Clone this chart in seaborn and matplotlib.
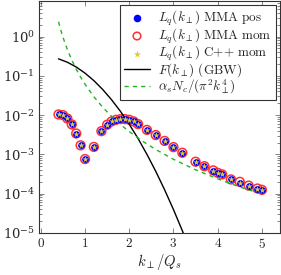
import numpy as np
import pandas as pd
import matplotlib
matplotlib.use("Agg")
import matplotlib.pyplot as plt
import seaborn as sns
from matplotlib.ticker import LogLocator, NullFormatter, FixedLocator

sns.set_style("ticks")
plt.rcParams["font.family"] = ["DejaVu Serif"]
plt.rcParams["mathtext.fontset"] = "cm"

# L_q(k_perp) samples
k_pts = [0.4, 0.5, 0.6, 0.7, 0.8, 0.9, 1.0, 1.2, 1.37, 1.5, 1.6, 1.7, 1.8, 1.9,
         2.0, 2.1, 2.2, 2.4, 2.6, 2.8, 3.0, 3.2, 3.5, 3.7, 3.9, 4.0, 4.1, 4.3,
         4.5, 4.7, 4.9, 5.0]
lq_pos = [0.0104, 0.0100, 0.0082, 0.0058, 0.0034, 0.0017, 0.00076, 0.00155,
          0.0039, 0.0057, 0.0069, 0.0076, 0.0079, 0.0079, 0.0076, 0.0069,
          0.0059, 0.0042, 0.0031, 0.0022, 0.00153, 0.0011, 0.00065, 0.00050,
          0.00037, 0.00034, 0.00031, 0.00023, 0.00019, 0.00016, 0.00013,
          0.000125]
lq_mom = [0.0104, 0.0100, 0.0082, 0.0058, 0.0034, 0.0017, 0.00076, 0.00155,
          0.0039, 0.0057, 0.0069, 0.0076, 0.0079, 0.0079, 0.0076, 0.0069,
          0.0059, 0.0042, 0.0031, 0.0022, 0.00153, 0.0011, 0.00065, 0.00050,
          0.00039, 0.00034, 0.00031, 0.00023, 0.00020, 0.00016, 0.000135,
          0.000125]
lq_cpp = lq_pos

# F(k_perp) GBW curve
k_gbw = [0.4, 0.6, 0.8, 1.0, 1.2, 1.4, 1.6, 1.8, 2.0, 2.2, 2.4, 2.6, 2.8,
         3.0, 3.2, 3.4]
f_gbw = [0.271, 0.222, 0.168, 0.117, 0.0754, 0.0448, 0.0246, 0.0125,
         0.00583, 0.00252, 0.00100, 0.000369, 0.000125, 3.93e-5, 1.14e-5,
         3.04e-6]

# alpha_s N_c / (pi^2 k^4) curve
k_pert = [0.4, 0.45, 0.5, 0.55, 0.6, 0.7, 0.8, 0.9, 1.0, 1.2, 1.4, 1.6, 1.8,
          2.0, 2.3, 2.6, 3.0, 3.5, 4.0, 4.5, 5.0]
f_pert = [2.38, 1.48, 0.973, 0.664, 0.469, 0.253, 0.148, 0.0927, 0.0608,
          0.0293, 0.0158, 0.00928, 0.00579, 0.00380, 0.00217, 0.00133,
          0.00075, 0.000405, 0.000238, 0.000148, 0.0000973]

x_ticks = [0, 1, 2, 3, 4, 5]

df = pd.DataFrame({"k": k_pts, "pos": lq_pos, "mom": lq_mom, "cpp": lq_cpp})
gbw = pd.DataFrame({"k": k_gbw, "F": f_gbw})
pert = pd.DataFrame({"k": k_pert, "F": f_pert})

fig = plt.figure(figsize=(2.81, 2.75), dpi=100)
ax = fig.add_axes([0.139, 0.153, 0.856, 0.843])

sns.scatterplot(data=df, x="k", y="pos", ax=ax, color="#0000ff", s=24,
                linewidth=0, label=r"$L_q(k_\perp)\ \mathrm{MMA\ pos}$", zorder=3)
sns.scatterplot(data=df, x="k", y="mom", ax=ax, facecolor="none",
                edgecolor="#ff3030", s=40, linewidth=1.1, marker="o",
                label=r"$L_q(k_\perp)\ \mathrm{MMA\ mom}$", zorder=2)
sns.scatterplot(data=df, x="k", y="cpp", ax=ax, color="#e0cc30", s=22,
                linewidth=0, marker="*",
                label=r"$L_q(k_\perp)\ \mathrm{C{+}{+}\ mom}$", zorder=4)
sns.lineplot(data=gbw, x="k", y="F", ax=ax, color="black", linewidth=1.0,
             label=r"$F(k_\perp)\ \mathrm{(GBW)}$", sort=False)
sns.lineplot(data=pert, x="k", y="F", ax=ax, color="#1fb51f", linewidth=1.0,
             label=r"$\alpha_s N_c/(\pi^2 k_\perp^4)$", sort=False)
ax.lines[-1].set_dashes((3, 3))

ax.set_yscale("log")
ax.set_xlim(-0.04, 5.4)
ax.set_ylim(1e-5, 8)
ax.xaxis.set_major_locator(FixedLocator(x_ticks))
ax.set_xticklabels([rf"${t}$" for t in x_ticks])
ax.yaxis.set_major_locator(LogLocator(base=10, numticks=10))
ax.yaxis.set_minor_locator(LogLocator(base=10, subs=np.arange(2, 10), numticks=20))
ax.yaxis.set_minor_formatter(NullFormatter())
ax.set_xlabel(r"$k_\perp/Q_s$", fontsize=10.5, labelpad=1)
ax.set_ylabel("")

ax.tick_params(which="both", direction="in", top=True, right=True, labelsize=9.5,
               width=0.5, color="#555555")
ax.tick_params(which="major", length=3.5, pad=3)
ax.tick_params(which="minor", length=2)
for sp in ax.spines.values():
    sp.set_linewidth(0.8)
    sp.set_color("#333333")

leg = ax.legend(loc="upper right", fontsize=9.5, frameon=True, fancybox=False,
                edgecolor="#333333", framealpha=1, borderaxespad=0.3,
                handlelength=2.0, labelspacing=-0.12, borderpad=0.3,
                handletextpad=0.6)
leg.get_frame().set_linewidth(0.8)
for h in leg.legend_handles[:3]:
    h.set_sizes([30])

fig.savefig("out.png", dpi=100)
